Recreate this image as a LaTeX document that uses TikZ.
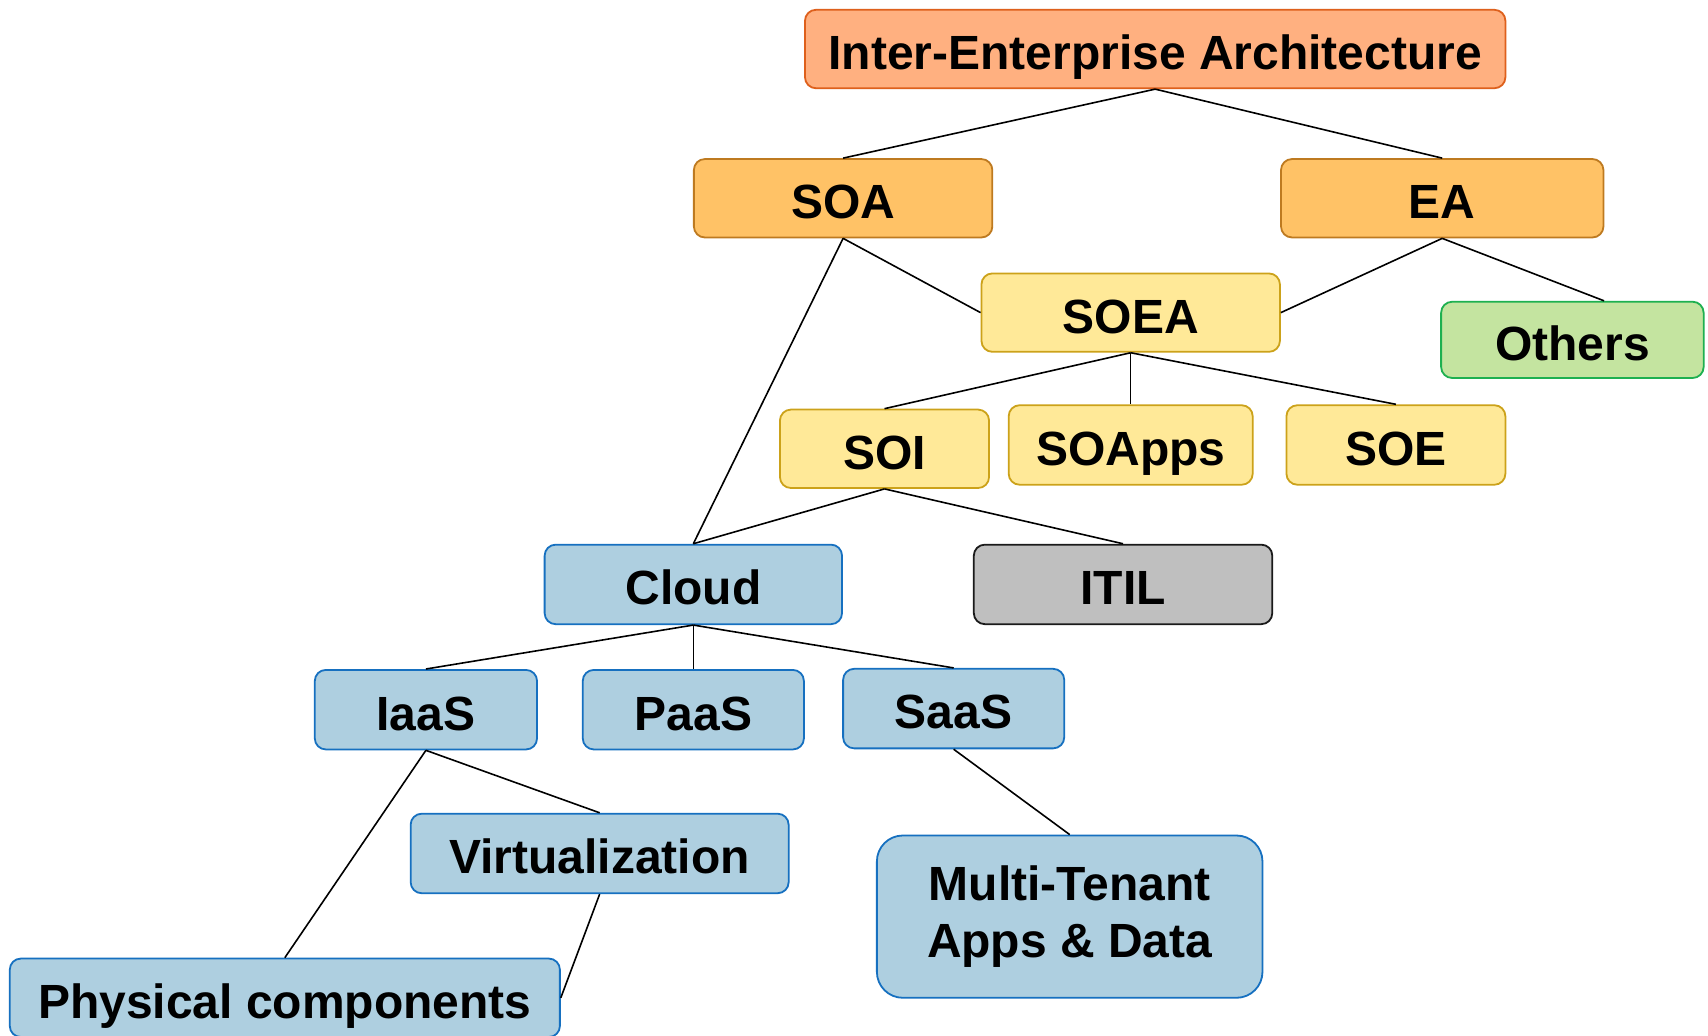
\documentclass[tikz,border=0pt]{standalone}
\usepackage{fontspec}
\setmainfont{Liberation Sans}
\usetikzlibrary{calc}
\definecolor{ieafill}{RGB}{255,176,128}
\definecolor{ieadraw}{RGB}{222,96,28}
\definecolor{soafill}{RGB}{255,194,102}
\definecolor{soadraw}{RGB}{190,122,32}
\definecolor{soeafill}{RGB}{255,233,152}
\definecolor{soeadraw}{RGB}{204,162,26}
\definecolor{othfill}{RGB}{196,228,160}
\definecolor{othdraw}{RGB}{30,176,80}
\definecolor{bluefill}{RGB}{174,207,224}
\definecolor{bluedraw}{RGB}{22,112,192}
\definecolor{itilfill}{RGB}{191,191,191}
\definecolor{itildraw}{RGB}{26,26,26}
\tikzset{
  box/.style={draw, line width=0.9pt, rounded corners=5.5pt, inner sep=0pt,
    font=\fontsize{24}{28.5}\selectfont\bfseries, align=center},
  lbl/.style={text height=20.4pt, text depth=0pt},
  iea/.style={box, lbl, fill=ieafill, draw=ieadraw},
  soacol/.style={box, lbl, fill=soafill, draw=soadraw},
  soeacol/.style={box, lbl, fill=soeafill, draw=soeadraw},
  othcol/.style={box, lbl, fill=othfill, draw=othdraw},
  bluecol/.style={box, fill=bluefill, draw=bluedraw},
  itilcol/.style={box, lbl, fill=itilfill, draw=itildraw},
  link/.style={draw=black, line width=0.8pt}
}
\begin{document}
\begin{tikzpicture}[x=0.5447pt, y=-0.5447pt]
\useasboundingbox (0,0) rectangle (1568,951);
\fill[white] (0,0) rectangle (1568,951);
% nodes
\node[iea, minimum width=643*0.5447pt, minimum height=72*0.5447pt] (iea) at (1060.5,45) {Inter-Enterprise Architecture};
\node[soacol, minimum width=274*0.5447pt, minimum height=72*0.5447pt] (soa) at (774,182) {SOA};
\node[soacol, minimum width=296*0.5447pt, minimum height=72*0.5447pt] (ea) at (1324,182) {EA};
\node[soeacol, minimum width=274*0.5447pt, minimum height=72*0.5447pt] (soea) at (1038,287) {SOEA};
\node[othcol, minimum width=241*0.5447pt, minimum height=70*0.5447pt] (oth) at (1443.5,312) {Others};
\node[soeacol, minimum width=192*0.5447pt, minimum height=72*0.5447pt] (soi) at (812,412) {SOI};
\node[soeacol, minimum width=224*0.5447pt, minimum height=73*0.5447pt] (soapps) at (1038,408.5) {SOApps};
\node[soeacol, minimum width=201*0.5447pt, minimum height=73*0.5447pt] (soe) at (1281.5,408.5) {SOE};
\node[bluecol, lbl, minimum width=273*0.5447pt, minimum height=73*0.5447pt] (cloud) at (636.5,536.5) {Cloud};
\node[itilcol, minimum width=274*0.5447pt, minimum height=73*0.5447pt] (itil) at (1031,536.5) {ITIL};
\node[bluecol, lbl, minimum width=204*0.5447pt, minimum height=73*0.5447pt] (iaas) at (391,651.5) {IaaS};
\node[bluecol, lbl, minimum width=203*0.5447pt, minimum height=73*0.5447pt] (paas) at (636.5,651.5) {PaaS};
\node[bluecol, lbl, minimum width=203*0.5447pt, minimum height=73*0.5447pt] (saas) at (875.5,650.5) {SaaS};
\node[bluecol, lbl, minimum width=347*0.5447pt, minimum height=73*0.5447pt] (virt) at (550.5,783.5) {Virtualization};
\node[bluecol, rounded corners=13pt, minimum width=354*0.5447pt, minimum height=149*0.5447pt] (multi) at (982,841.5) {Multi-Tenant\\Apps \& Data};
\node[bluecol, lbl, minimum width=505*0.5447pt, minimum height=72*0.5447pt] (phys) at (261.5,916) {Physical components};
\coordinate (othin) at ($(oth.north west)!0.62!(oth.north east)$);
% connectors
\draw[link] (iea.south) -- (soa.north);
\draw[link] (iea.south) -- (ea.north);
\draw[link] (soa.south) -- (soea.west);
\draw[link] (soa.south) -- (cloud.north);
\draw[link] (ea.south) -- (soea.east);
\draw[link] (ea.south) -- (othin);
\draw[link] (soea.south) -- (soi.north);
\draw[link] (soea.south) -- (soapps.north);
\draw[link] (soea.south) -- (soe.north);
\draw[link] (soi.south) -- (cloud.north);
\draw[link] (soi.south) -- (itil.north);
\draw[link] (cloud.south) -- (iaas.north);
\draw[link] (cloud.south) -- (paas.north);
\draw[link] (cloud.south) -- (saas.north);
\draw[link] (iaas.south) -- (virt.north);
\draw[link] (iaas.south) -- (phys.north);
\draw[link] (virt.south) -- (phys.east);
\draw[link] (saas.south) -- (multi.north);
\end{tikzpicture}
\end{document}
